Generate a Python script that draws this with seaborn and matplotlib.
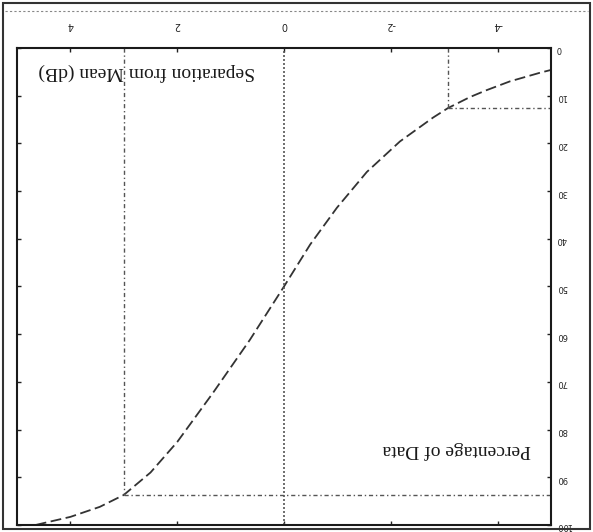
import matplotlib
matplotlib.use("Agg")
import matplotlib.pyplot as plt
import seaborn as sns
import pandas as pd
from matplotlib.lines import Line2D
from matplotlib.patches import Rectangle

# ---- data ----
separation_db = [4.65, 4.5, 4.0, 3.45, 3.0, 2.5, 2.0, 1.33, 0.64, 0.0, -0.49,
                 -0.99, -1.55, -2.17, -2.79, -3.07, -3.48, -3.78, -4.23, -4.79, -5.0]
percent_data = [100.0, 99.6, 98.3, 96.2, 93.7, 89.0, 82.6, 72.3, 61.2, 50.0, 41.2,
                33.5, 26.0, 19.6, 14.6, 12.6, 10.3, 8.9, 7.0, 5.2, 4.6]
x_ticks = [-4, -2, 0, 2, 4]
y_ticks = [0, 10, 20, 30, 40, 50, 60, 70, 80, 90, 100]
ref_upper_x, ref_upper_y = 3.0, 93.7
ref_lower_x, ref_lower_y = -3.07, 12.6
x_label = "Separation from Mean (dB)"
y_label = "Percentage of Data"

sns.set_theme(style="white")
plt.rcParams["font.family"] = ["Liberation Serif", "DejaVu Serif"]

fig = plt.figure(figsize=(5.93, 5.32), dpi=100)
ax = fig.add_axes([0.0287, 0.0132, 0.9005, 0.8966])

df = pd.DataFrame({"sep": separation_db, "pct": percent_data})
sns.lineplot(data=df, x="sep", y="pct", ax=ax, color="#333333", lw=1.3,
             linestyle=(0, (6, 2.5)), sort=False)

ax.set_xlim(5, -5)
ax.set_ylim(100, 0)

lc = "#555555"
dd = (0, (3, 2, 1, 2))
ax.axvline(0, color=lc, lw=1.2, linestyle=(0, (1.2, 1.2)))
ax.plot([ref_upper_x, ref_upper_x], [0, ref_upper_y], color=lc, lw=1.0, linestyle=dd)
ax.plot([ref_upper_x, -5], [ref_upper_y, ref_upper_y], color=lc, lw=1.0, linestyle=dd)
ax.plot([ref_lower_x, ref_lower_x], [0, ref_lower_y], color=lc, lw=1.0, linestyle=dd)
ax.plot([ref_lower_x, -5], [ref_lower_y, ref_lower_y], color=lc, lw=1.0, linestyle=dd)

ax.set_xticks(x_ticks)
ax.set_xticklabels([str(v) for v in x_ticks], rotation=180, fontsize=7, family="DejaVu Sans")
ax.set_yticks(y_ticks)
ax.set_yticklabels([str(v) for v in y_ticks], rotation=180, fontsize=6, family="DejaVu Sans")
ax.tick_params(axis="x", which="both", direction="in", length=3, width=1,
               top=True, bottom=True, labeltop=True, labelbottom=False, pad=13, colors="#222222")
ax.tick_params(axis="y", which="both", direction="in", length=3, width=1,
               left=True, right=True, labelleft=False, labelright=True, pad=4, colors="#222222")
ax.set_xlabel("")
ax.set_ylabel("")
for s in ax.spines.values():
    s.set_color("#1a1a1a")
    s.set_linewidth(1.5)

ax.text(4.6, 5.0, x_label, rotation=180, ha="left", va="center", fontsize=14, color="#1a1a1a")
ax.text(-4.63, 84.3, y_label, rotation=180, ha="right", va="center", fontsize=14, color="#1a1a1a")

# scanned page frame
fig.add_artist(Rectangle((3 / 593, 3 / 532), 587 / 593, 526 / 532, transform=fig.transFigure,
                         fill=False, ec="#333333", lw=1.5))
fig.add_artist(Line2D([5 / 593, 588 / 593], [1 - 11 / 532, 1 - 11 / 532], transform=fig.transFigure,
                      color="#888888", lw=0.8, linestyle=(0, (2, 2))))

fig.savefig("out.png", dpi=100)
